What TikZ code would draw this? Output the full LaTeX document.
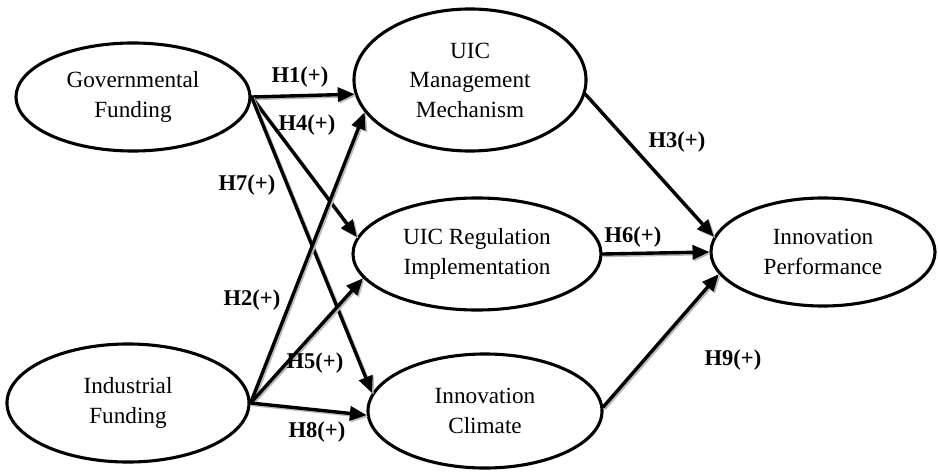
\documentclass[tikz,border=0pt]{standalone}
\usepackage{fontspec}
\setmainfont{Liberation Serif}
\usetikzlibrary{arrows.meta,shapes.geometric}

\begin{document}
\begin{tikzpicture}[x=0.025cm,y=-0.025cm,>={Triangle[length=12pt,width=10pt]},line cap=round,
  construct/.style={ellipse,draw,line width=2.2pt,inner sep=0pt,align=center,font=\fontsize{16.5}{21}\selectfont},
  hyp/.style={->,line width=2.4pt,preaction={draw=gray!55,line width=2.4pt,transform canvas={shift={(1.1pt,-1.1pt)}}}},
  hlabel/.style={font=\fontsize{16}{18}\selectfont\bfseries,inner sep=1pt}]
\useasboundingbox (0,0) rectangle (938,472);
\node[construct,minimum width=5.85cm,minimum height=2.7cm] (gov) at (133,97) {Governmental\\Funding};
\node[construct,minimum width=6.05cm,minimum height=2.95cm] (ind) at (128,403) {Industrial\\Funding};
\node[construct,minimum width=5.8cm,minimum height=3.55cm] (mgmt) at (470,80) {UIC\\Management\\Mechanism};
\node[construct,minimum width=6.2cm,minimum height=2.8cm] (reg) at (477,254) {UIC Regulation\\Implementation};
\node[construct,minimum width=5.85cm,minimum height=2.85cm] (clim) at (485,411) {Innovation\\Climate};
\node[construct,minimum width=5.6cm,minimum height=2.7cm] (perf) at (823,252) {Innovation\\Performance};
\draw[hyp] (gov.east) -- (mgmt.187);
\draw[hyp] (gov.east) -- (reg.172);
\draw[hyp] (gov.east) -- (clim.171);
\draw[hyp] (ind.east) -- (mgmt.197);
\draw[hyp] (ind.east) -- (reg.192);
\draw[hyp] (ind.east) -- (clim.182);
\draw[hyp] (mgmt.353) -- (perf.172);
\draw[hyp] (reg.east) -- (perf.west);
\draw[hyp] (clim.2) -- (perf.192);
\node[hlabel] (h1) at (300,77) {H1(+)};
\node[hlabel] (h2) at (252,300) {H2(+)};
\node[hlabel] (h3) at (677,142) {H3(+)};
\node[hlabel] (h4) at (307,125) {H4(+)};
\node[hlabel] (h5) at (315,363) {H5(+)};
\node[hlabel] (h6) at (633,237) {H6(+)};
\node[hlabel] (h7) at (247,185) {H7(+)};
\node[hlabel] (h8) at (317,432) {H8(+)};
\node[hlabel] (h9) at (733,360) {H9(+)};
\end{tikzpicture}
\end{document}
